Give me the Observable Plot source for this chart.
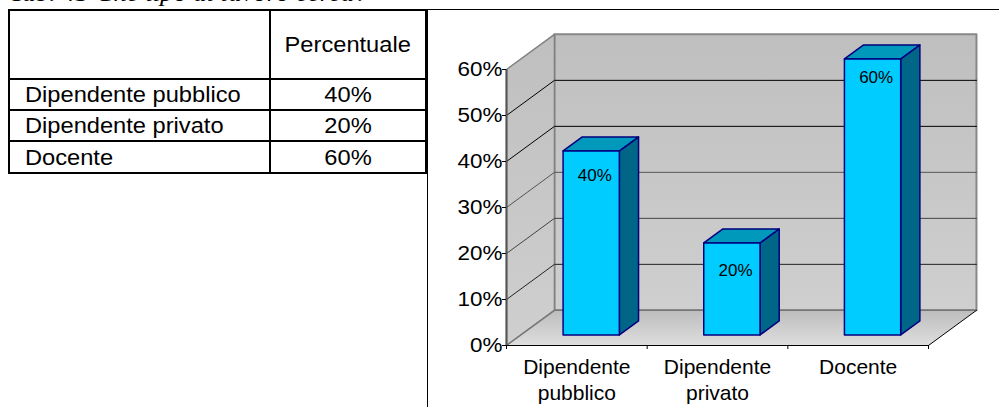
<!DOCTYPE html>
<html><head><meta charset="utf-8">
<script src="https://cdn.jsdelivr.net/npm/d3@7"></script>
<script src="https://cdn.jsdelivr.net/npm/@observablehq/plot@0.6"></script>
<style>
html,body{margin:0;padding:0;background:#fff;overflow:hidden;width:999px;height:407px}
#wrap{position:relative;width:999px;height:407px;overflow:hidden}
#wrap svg{position:absolute;left:0;top:0}
#title{position:absolute;left:10px;top:-20px;font:italic 23.7px "Liberation Serif",serif;white-space:nowrap;color:#000;transform:scaleX(1.125);transform-origin:left center}
table{position:absolute;left:8px;top:9px;border-collapse:collapse;font:22px "Liberation Sans",Arial,sans-serif;table-layout:fixed;width:419px;color:#000}
td{border:2px solid #000;padding:1px 0 0;box-sizing:border-box;line-height:1}
td:first-child{width:261px;padding-left:15px}
td:last-child{text-align:center}
td span{display:inline-block;transform:scaleX(1.075)}
td:first-child span{transform-origin:left center}
#frameH{position:absolute;left:427px;top:9px;right:0;height:1px;background:#000}
#frameV{position:absolute;left:427px;top:9px;bottom:0;width:1px;background:#000}
</style></head>
<body><div id="wrap"></div>
<script>
const titleText = "Tab. 43 Che tipo di lavoro cerca?";
const headerLabel = "Percentuale";
const categories = ["Dipendente pubblico", "Dipendente privato", "Docente"];
const axisLabels = ["Dipendente\npubblico", "Dipendente\nprivato", "Docente"];
const values = [40, 20, 60];
const yTicks = [0, 10, 20, 30, 40, 50, 60];
const xBoundaries = [0, 1, 2, 3];
const fmt = d => d + "%";

// Oblique projection of the 3D chart, in data units: a point at depth d (0 to 1)
const depthX = 0.341, depthY = 7.64;
const P = (x, y, d) => ({x: x + depthX * d, y: y + depthY * d});
const poly = (pts, opts) => Plot.line(pts, {x: "x", y: "y", curve: "linear-closed", ...opts});
const yMax = 60, xMax = 3;

const defs = () => {
  const ns = "http://www.w3.org/2000/svg";
  const d = document.createElementNS(ns, "defs");
  const add = (id, a, b) => {
    const g = document.createElementNS(ns, "linearGradient");
    g.setAttribute("id", id); g.setAttribute("x1", 0); g.setAttribute("x2", 0); g.setAttribute("y1", 0); g.setAttribute("y2", 1);
    [[0, a], [1, b]].forEach(([o, c]) => {
      const s = document.createElementNS(ns, "stop");
      s.setAttribute("offset", o); s.setAttribute("stop-color", c); g.appendChild(s);
    });
    d.appendChild(g);
  };
  add("wall", "#bfbfbf", "#cfcfcf");
  add("floor", "#bdbdbd", "#dedede");
  return d;
};

const gridStroke = {10: "#222", 20: "#444", 30: "#555", 40: "#000", 50: "#000"};
const gridValues = yTicks.filter(v => v > 0 && v < 60);

const bx0 = 0.3, bx1 = 0.7, bd0 = 0.3, bd1 = 0.7;
const barMarks = values.flatMap((v, i) => {
  const a = i + bx0, b = i + bx1;
  const S = {stroke: "#000080", strokeWidth: 1.5};
  return [
    poly([P(b, 0, bd0), P(b, 0, bd1), P(b, v, bd1), P(b, v, bd0)], {fill: "#006688", ...S}),
    poly([P(a, v, bd0), P(b, v, bd0), P(b, v, bd1), P(a, v, bd1)], {fill: "#0099bb", ...S}),
    poly([P(a, 0, bd0), P(b, 0, bd0), P(b, v, bd0), P(a, v, bd0)], {fill: "#00ccff", ...S})
  ];
});
const labelDy = [14, 17, 8];

const chart = Plot.plot({
  width: 999, height: 407,
  marginLeft: 506, marginRight: 71, marginTop: 69, marginBottom: 62,
  style: {background: "transparent", overflow: "visible", fontFamily: "'Liberation Sans',Arial,sans-serif"},
  x: {domain: [0, xMax]},
  y: {domain: [0, yMax]},
  marks: [
    defs,
    poly([P(0, 0, 1), P(xMax, 0, 1), P(xMax, yMax, 1), P(0, yMax, 1)], {fill: "url(#wall)", stroke: "#888", strokeWidth: 2}),
    poly([P(0, 0, 0), P(0, 0, 1), P(0, yMax, 1), P(0, yMax, 0)], {fill: "url(#wall)", stroke: "#808080", strokeWidth: 1.5}),
    poly([P(0, 0, 0), P(xMax, 0, 0), P(xMax, 0, 1), P(0, 0, 1)], {fill: "url(#floor)"}),
    Plot.line([P(0, 0, 0), P(0, 0, 1)], {x: "x", y: "y", stroke: "#777", strokeWidth: 1.5}),
    Plot.line([P(0, 0, 1), P(xMax, 0, 1)], {x: "x", y: "y", stroke: "#777", strokeWidth: 1.5}),
    Plot.line([P(xMax, 0, 0), P(xMax, 0, 1)], {x: "x", y: "y", stroke: "#000", strokeWidth: 1}),
    ...gridValues.map(v => Plot.line([P(0, v, 0), P(0, v, 1), P(xMax, v, 1)], {x: "x", y: "y", stroke: gridStroke[v], strokeWidth: 1})),
    ...barMarks,
    Plot.ruleY([0], {stroke: "#000", strokeWidth: 1}),
    Plot.ruleX([0], {stroke: "#555", strokeWidth: 2}),
    Plot.axisY({ticks: yTicks, tickFormat: fmt, tickSize: 4, tickPadding: 0, label: null, fontSize: 21, color: "#000"}),
    Plot.axisX({ticks: xBoundaries, tickFormat: () => "", tickSize: 4, label: null, color: "#000"}),
    Plot.text(axisLabels, {x: (d, i) => i + 0.5, y: () => 0, text: d => d, dy: 10, lineAnchor: "top", lineHeight: 1.25, fontSize: 21, fill: "#000", ariaLabel: "stretch-x"}),
    ...values.map((v, i) => Plot.text([v], {x: () => i + 0.5, y: d => d, text: fmt, dx: 18, dy: labelDy[i], fontSize: 17, fill: "#000"}))
  ]
});

// The reference's lettering is horizontally stretched
const stretch = (sel, k) => chart.querySelectorAll(sel).forEach(t => {
  t.setAttribute("transform", (t.getAttribute("transform") || "") + ` scale(${k} 1)`);
});
stretch('[aria-label="y-axis tick label"] text', 1.07);
stretch('[aria-label="stretch-x"] text', 1.03);

const wrap = document.getElementById("wrap");
wrap.appendChild(chart);

const title = document.createElement("div");
title.id = "title"; title.textContent = titleText; wrap.appendChild(title);
["frameH", "frameV"].forEach(id => { const e = document.createElement("div"); e.id = id; wrap.appendChild(e); });

const table = document.createElement("table");
const rowHeights = [69, 31, 31, 32];
[["", headerLabel], ...categories.map((c, i) => [c, fmt(values[i])])].forEach((row, r) => {
  const tr = table.insertRow();
  tr.style.height = rowHeights[r] + "px";
  row.forEach(t => {
    const s = document.createElement("span"); s.textContent = t;
    tr.insertCell().appendChild(s);
  });
});
wrap.appendChild(table);
</script></body></html>
